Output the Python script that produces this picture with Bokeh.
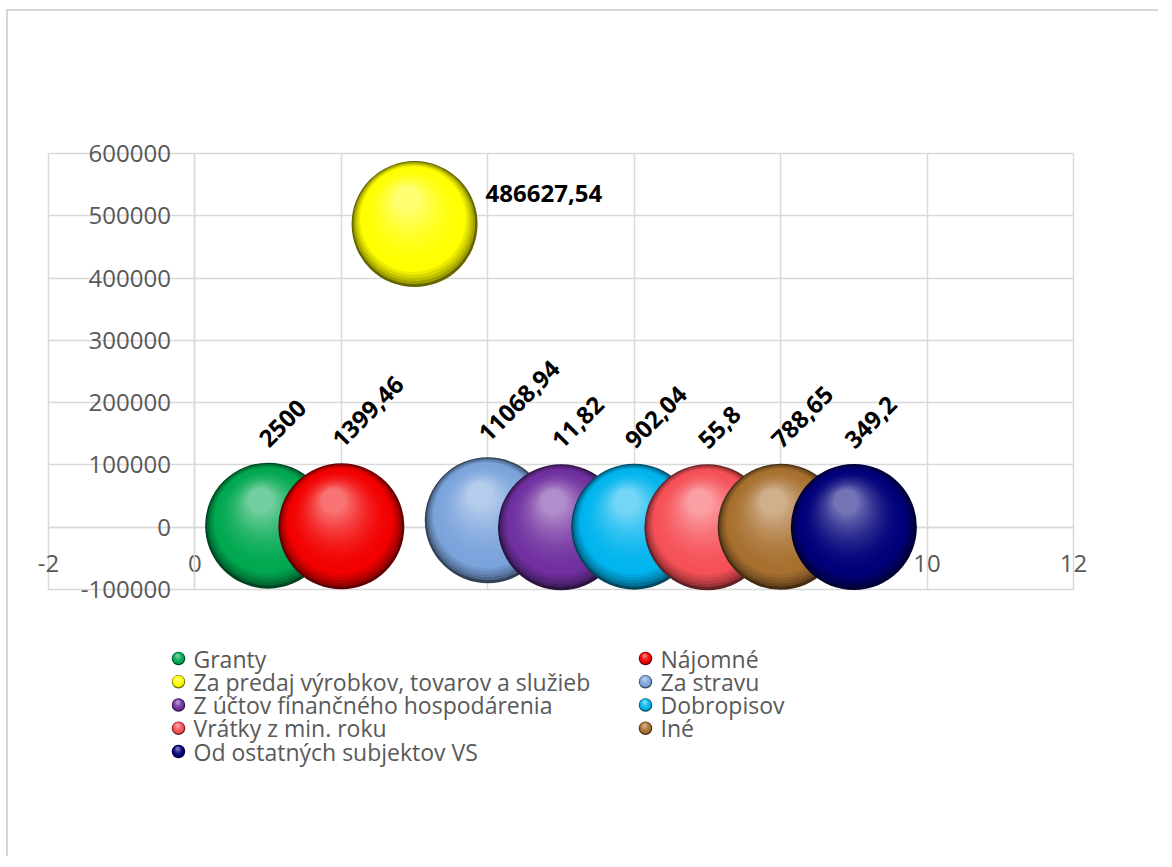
import math
from bokeh.plotting import figure
from bokeh.layouts import column
from bokeh.models import (ColumnDataSource, LinearAxis, FixedTicker, BasicTickFormatter,
                          Range1d, Grid)
from bokeh.core.properties import value
from bokeh.embed import file_html
from bokeh.resources import INLINE

# ---------------- data ----------------
categories = ["Granty", "Nájomné", "Za predaj výrobkov, tovarov a služieb", "Za stravu",
              "Z účtov finančného hospodárenia", "Dobropisov", "Vrátky z min. roku", "Iné",
              "Od ostatných subjektov VS"]
x_values = [1, 2, 3, 4, 5, 6, 7, 8, 9]
y_values = [2500, 1399.46, 486627.54, 11068.94, 11.82, 902.04, 55.8, 788.65, 349.2]
colors = ["#00A850", "#F20000", "#FFFF00", "#7BA3DC", "#7030A0", "#00B4EE",
          "#F65058", "#A8702F", "#00007A"]
x_ticks = [-2, 0, 2, 4, 6, 8, 10, 12]
y_ticks = [-100000, 0, 100000, 200000, 300000, 400000, 500000, 600000]

# ---------------- layout constants ----------------
W = 1150
HM, HL = 600, 245
X0, X1 = -2, 12
Y0, Y1 = -100000, 600000
PLOT_W, PLOT_H = 1025, 436        # visible plot area in px
PADX, PADY = 22, 20               # room inside the frame for edge tick labels
ML = 18
MR = W - ML - (PLOT_W + 2 * PADX)
MT = 122
MB = HM - MT - (PLOT_H + 2 * PADY)
GRID = "#d9d9d9"
TXT = "#595959"
FONT = "Open Sans"

px_x = PLOT_W / (X1 - X0)
px_y = PLOT_H / (Y1 - Y0)


def hex_rgb(h):
    h = h.lstrip("#")
    return [int(h[i:i + 2], 16) for i in (0, 2, 4)]


def mix(a, b, f):
    return [a[j] + (b[j] - a[j]) * f for j in range(3)]


def shade(h, t):
    base = hex_rgb(h)
    dark = [c * 0.4 for c in base]
    light = mix(base, [255, 255, 255], 0.45)
    if t < 0.2:
        c = mix(dark, base, (t / 0.2) ** 0.6)
    else:
        c = mix(base, light, ((t - 0.2) / 0.8) ** 1.8)
    return "#%02x%02x%02x" % tuple(int(round(max(0, min(255, v)))) for v in c)


# ---------------- main chart ----------------
p = figure(width=W, height=HM,
           x_range=Range1d(X0 - PADX / px_x, X1 + PADX / px_x),
           y_range=Range1d(Y0 - PADY / px_y, Y1 + PADY / px_y),
           x_axis_type=None, y_axis_type=None,
           output_backend="svg", toolbar_location=None,
           min_border_left=ML, min_border_right=MR, min_border_top=MT, min_border_bottom=MB)
p.outline_line_color = None
p.background_fill_color = "white"
p.border_fill_color = "white"

try:
    gx = Grid(dimension=0, ticker=FixedTicker(ticks=x_ticks), bounds=(X0, X1),
              cross_bounds=(Y0, Y1), grid_line_color=GRID, grid_line_width=1.5)
    gy = Grid(dimension=1, ticker=FixedTicker(ticks=y_ticks), bounds=(Y0, Y1),
              cross_bounds=(X0, X1), grid_line_color=GRID, grid_line_width=1.5)
    p.add_layout(gx, "center")
    p.add_layout(gy, "center")
except Exception:
    p.segment(x0=x_ticks, y0=[Y0] * len(x_ticks), x1=x_ticks, y1=[Y1] * len(x_ticks),
              line_color=GRID, line_width=1.5, level="underlay")
    p.segment(x0=[X0] * len(y_ticks), y0=y_ticks, x1=[X1] * len(y_ticks), y1=y_ticks,
              line_color=GRID, line_width=1.5, level="underlay")

axis_style = dict(axis_line_color=GRID, axis_line_width=1.5,
                  major_tick_in=0, major_tick_out=0,
                  major_tick_line_color=None, minor_tick_line_color=None,
                  major_label_text_font=FONT, major_label_text_font_size="24px",
                  major_label_text_color=TXT)
xaxis = LinearAxis(fixed_location=0, ticker=FixedTicker(ticks=x_ticks), bounds=(X0, X1),
                   major_label_standoff=28,
                   major_label_overrides={t: str(t) for t in x_ticks}, **axis_style)
yaxis = LinearAxis(fixed_location=0, ticker=FixedTicker(ticks=y_ticks), bounds=(Y0, Y1),
                   formatter=BasicTickFormatter(use_scientific=False),
                   major_label_standoff=24,
                   major_label_overrides={t: str(t) for t in y_ticks}, **axis_style)
p.add_layout(xaxis, "below")
p.add_layout(yaxis, "left")

# bubbles drawn as shaded spheres (layers of discs)
D = 126
N = 26
for i in range(len(categories)):
    xs, ys, sz, cl = [], [], [], []
    for k in range(N):
        t = k / (N - 1)
        xs.append(x_values[i] - 0.06 * D * t / px_x)
        ys.append(y_values[i] + 0.2 * D * t / px_y)
        sz.append(D * (1 - 0.8 * t))
        cl.append(shade(colors[i], t))
    src = ColumnDataSource(dict(x=xs, y=ys, size=sz, color=cl))
    p.scatter("x", "y", size="size", fill_color="color", line_color=None,
              source=src, level="overlay")


# data labels
def fmt(v):
    s = format(v, ".2f").rstrip("0").rstrip(".")
    return s.replace(".", ",")


labels = [fmt(v) for v in y_values]
rot_idx = [i for i, v in enumerate(y_values) if v < 100000]
hor_idx = [i for i, v in enumerate(y_values) if v >= 100000]

src_rot = ColumnDataSource(dict(x=[x_values[i] for i in rot_idx],
                                y=[y_values[i] for i in rot_idx],
                                text=[labels[i] for i in rot_idx]))
src_hor = ColumnDataSource(dict(x=[x_values[i] for i in hor_idx],
                                y=[y_values[i] for i in hor_idx],
                                text=[labels[i] for i in hor_idx]))
lab_style = dict(text_font=value(FONT), text_font_style="bold", text_font_size="24px",
                 text_color="black", level="overlay")
p.text("x", "y", "text", source=src_rot, angle=math.pi / 4, text_align="left",
       text_baseline="alphabetic", x_offset=-5, y_offset=-83, **lab_style)
p.text("x", "y", "text", source=src_hor, angle=0, text_align="left",
       text_baseline="middle", x_offset=71, y_offset=-31, **lab_style)

# ---------------- legend (two columns, filled row by row) ----------------
lg = figure(width=W, height=HL, x_range=Range1d(ML, W - MR), y_range=Range1d(HL, 0),
            x_axis_type=None, y_axis_type=None, output_backend="svg",
            toolbar_location=None, min_border_left=ML, min_border_right=MR,
            min_border_top=0, min_border_bottom=0)
lg.outline_line_color = None
lg.background_fill_color = "white"
lg.border_fill_color = "white"

COL_X = [170, 637]      # marker centre of each legend column (canvas px)
ROW_Y0, ROW_DY = 47, 23.25
MK = 13.5
NL = 7

mk_x, mk_y, mk_s, mk_c = [], [], [], []
tx, ty, tt = [], [], []
for i, name in enumerate(categories):
    cx = COL_X[i % 2]
    cy = ROW_Y0 + ROW_DY * (i // 2)
    for k in range(NL):
        t = k / (NL - 1)
        mk_x.append(cx - 0.06 * MK * t)
        mk_y.append(cy - 0.2 * MK * t)
        mk_s.append(MK * (1 - 0.75 * t))
        mk_c.append(shade(colors[i], t))
    tx.append(cx + 15)
    ty.append(cy)
    tt.append(name)

lg.scatter("x", "y", size="s", fill_color="c", line_color=None,
           source=ColumnDataSource(dict(x=mk_x, y=mk_y, s=mk_s, c=mk_c)))
lg.text("x", "y", "t", source=ColumnDataSource(dict(x=tx, y=ty, t=tt)),
        text_font=value(FONT), text_font_size="23px", text_color=TXT,
        text_align="left", text_baseline="middle")

layout = column(p, lg, spacing=0)
layout.styles = {"margin-left": "6px", "margin-top": "9px",
                 "border-top": "2px solid #d6d6d6", "border-left": "2px solid #d6d6d6"}

open("out.html", "w").write(file_html(layout, INLINE))
